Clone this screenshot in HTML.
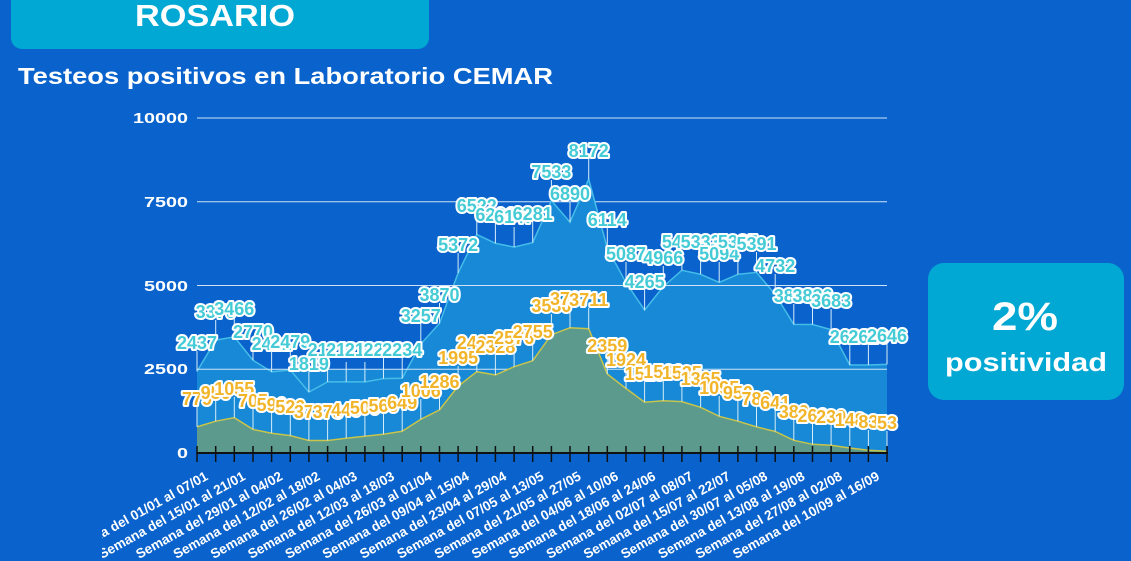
<!DOCTYPE html>
<html><head><meta charset="utf-8"><style>
html,body{margin:0;padding:0;background:#0a63cd;}
body{width:1131px;height:561px;overflow:hidden;position:relative;font-family:"Liberation Sans",sans-serif;}
</style></head><body>
<svg width="1131" height="561" viewBox="0 0 1131 561" xmlns="http://www.w3.org/2000/svg" style="position:absolute;left:0;top:0">
<defs><clipPath id="c"><rect x="102" y="440" width="900" height="130"/></clipPath></defs>
<rect x="0" y="0" width="1131" height="561" fill="#0a63cd"/>
<rect x="11" y="-20" width="418" height="69" rx="11" fill="#00a8d3"/>
<text x="135" y="26" textLength="160" lengthAdjust="spacingAndGlyphs" font-family="Liberation Sans, sans-serif" font-weight="bold" font-size="31" fill="#fff">ROSARIO</text>
<text x="18" y="84" textLength="535" lengthAdjust="spacingAndGlyphs" font-family="Liberation Sans, sans-serif" font-weight="bold" font-size="23" fill="#fff">Testeos positivos en Laboratorio CEMAR</text>
<rect x="928" y="263" width="196" height="137" rx="16" fill="#00a8d3"/>
<text x="992" y="330" textLength="66" lengthAdjust="spacingAndGlyphs" font-family="Liberation Sans, sans-serif" font-weight="bold" font-size="40" fill="#fff">2%</text>
<text x="945" y="371" textLength="162" lengthAdjust="spacingAndGlyphs" font-family="Liberation Sans, sans-serif" font-weight="bold" font-size="26" fill="#fff">positividad</text>

<g font-family="Liberation Sans, sans-serif" font-weight="bold" font-size="15" fill="#fff">
<text x="133" y="123" textLength="55" lengthAdjust="spacingAndGlyphs">10000</text><text x="144" y="207" textLength="44" lengthAdjust="spacingAndGlyphs">7500</text><text x="144" y="291" textLength="44" lengthAdjust="spacingAndGlyphs">5000</text><text x="144" y="374" textLength="44" lengthAdjust="spacingAndGlyphs">2500</text><text x="177" y="458" textLength="11" lengthAdjust="spacingAndGlyphs">0</text>
</g>
<g stroke="#cfe3f5" stroke-width="1">
<line x1="197" y1="118" x2="887" y2="118"/><line x1="197" y1="201.75" x2="887" y2="201.75"/>
</g>

<rect x="197" y="369.25" width="690" height="83.75" fill="#1789d6"/>
<polygon fill="#1789d6" points="197,371.4 215.7,340.1 234.3,336.9 253,360.2 271.6,371.9 290.3,370 308.9,392.1 327.6,381.9 346.2,381.9 364.9,381.9 383.5,378.6 402.2,378.2 420.8,343.9 439.5,323.4 458.1,273 476.8,234.5 495.4,243.3 514.1,247.1 532.7,242.6 551.4,200.6 570,222.2 588.7,179.2 607.3,248.2 626,282.6 644.6,310.1 663.3,286.6 681.9,270.3 700.6,274.3 719.2,282.4 737.9,274.3 756.5,272.4 775.2,294.5 793.8,324.4 812.5,324.5 831.1,329.6 849.8,365 868.4,365 887,364.4 887,453 197,453"/>
<polyline fill="none" stroke="#45bde9" stroke-width="1.5" points="197,371.4 215.7,340.1 234.3,336.9 253,360.2 271.6,371.9 290.3,370 308.9,392.1 327.6,381.9 346.2,381.9 364.9,381.9 383.5,378.6 402.2,378.2 420.8,343.9 439.5,323.4 458.1,273 476.8,234.5 495.4,243.3 514.1,247.1 532.7,242.6 551.4,200.6 570,222.2 588.7,179.2 607.3,248.2 626,282.6 644.6,310.1 663.3,286.6 681.9,270.3 700.6,274.3 719.2,282.4 737.9,274.3 756.5,272.4 775.2,294.5 793.8,324.4 812.5,324.5 831.1,329.6 849.8,365 868.4,365 887,364.4"/>
<g stroke="#cfe3f5" stroke-width="1">
<line x1="197" y1="285.5" x2="887" y2="285.5"/><line x1="197" y1="369.25" x2="887" y2="369.25"/>
</g>
<polygon fill="#5b9a8d" points="197,426.9 215.7,421.2 234.3,417.7 253,429.4 271.6,433.2 290.3,435.6 308.9,440.5 327.6,440.5 346.2,438.3 364.9,436.3 383.5,434.2 402.2,431.3 420.8,419.3 439.5,409.9 458.1,386.2 476.8,371.7 495.4,375 514.1,366.7 532.7,360.7 551.4,334.7 570,327.8 588.7,328.7 607.3,374 626,388.5 644.6,402.2 663.3,400.7 681.9,401.6 700.6,407.3 719.2,416.3 737.9,421.2 756.5,426.9 775.2,431.5 793.8,440.3 812.5,444.3 831.1,445.3 849.8,448 868.4,450.2 887,451.2 887,453 197,453"/>
<polyline fill="none" stroke="#c9c44a" stroke-width="1.5" points="197,426.9 215.7,421.2 234.3,417.7 253,429.4 271.6,433.2 290.3,435.6 308.9,440.5 327.6,440.5 346.2,438.3 364.9,436.3 383.5,434.2 402.2,431.3 420.8,419.3 439.5,409.9 458.1,386.2 476.8,371.7 495.4,375 514.1,366.7 532.7,360.7 551.4,334.7 570,327.8 588.7,328.7 607.3,374 626,388.5 644.6,402.2 663.3,400.7 681.9,401.6 700.6,407.3 719.2,416.3 737.9,421.2 756.5,426.9 775.2,431.5 793.8,440.3 812.5,444.3 831.1,445.3 849.8,448 868.4,450.2 887,451.2"/>

<g stroke="#d6ecf8" stroke-width="1">
<path d="M197 351V371.4M215.7 320V340.1M234.3 317V336.9M253 340V360.2M271.6 352V371.9M290.3 350V370M308.9 372V392.1M327.6 362V381.9M346.2 362V381.9M364.9 362V381.9M383.5 358V378.6M402.2 358V378.2M420.8 324V343.9M439.5 303V323.4M458.1 253V273M476.8 214V234.5M495.4 223V243.3M514.1 227V247.1M532.7 222V242.6M551.4 180V200.6M570 202V222.2M588.7 159V179.2M607.3 228V248.2M626 262V282.6M644.6 290V310.1M663.3 266V286.6M681.9 250V270.3M700.6 254V274.3M719.2 262V282.4M737.9 254V274.3M756.5 252V272.4M775.2 274V294.5M793.8 304V324.4M812.5 304V324.5M831.1 309V329.6M849.8 345V365M868.4 345V365M887 344V364.4"/>
<path d="M197 407V426.9M215.7 401V421.2M234.3 397V417.7M253 409V429.4M271.6 413V433.2M290.3 415V435.6M308.9 420V440.5M327.6 420V440.5M346.2 418V438.3M364.9 416V436.3M383.5 414V434.2M402.2 411V431.3M420.8 399V419.3M439.5 390V409.9M458.1 366V386.2M476.8 351V371.7M495.4 355V375M514.1 346V366.7M532.7 340V360.7M551.4 314V334.7M570 307V327.8M588.7 308V328.7M607.3 354V374M626 368V388.5M644.6 382V402.2M663.3 380V400.7M681.9 381V401.6M700.6 387V407.3M719.2 396V416.3M737.9 401V421.2M756.5 407V426.9M775.2 411V431.5M793.8 420V440.3M812.5 424V444.3M831.1 425V445.3M849.8 428V448M868.4 430V450.2M887 431V451.2"/>
</g>

<g font-family="Liberation Sans, sans-serif" font-weight="bold" font-size="18" text-anchor="middle" stroke="#fff" stroke-width="4" paint-order="stroke" stroke-linejoin="round" fill="#45cbd6">
<text x="197" y="349">2437</text><text x="215.7" y="318">3370</text><text x="234.3" y="315">3466</text><text x="253" y="338">2770</text><text x="271.6" y="350">2421</text><text x="290.3" y="348">2479</text><text x="308.9" y="370">1819</text><text x="327.6" y="356">2121</text><text x="346.2" y="356">2121</text><text x="364.9" y="356">2122</text><text x="383.5" y="356">2222</text><text x="402.2" y="356">2234</text><text x="420.8" y="322">3257</text><text x="439.5" y="301">3870</text><text x="458.1" y="251">5372</text><text x="476.8" y="212">6522</text><text x="495.4" y="221">6261</text><text x="514.1" y="223">6147</text><text x="532.7" y="220">6281</text><text x="551.4" y="178">7533</text><text x="570" y="200">6890</text><text x="588.7" y="157">8172</text><text x="607.3" y="226">6114</text><text x="626" y="260">5087</text><text x="644.6" y="288">4265</text><text x="663.3" y="264">4966</text><text x="681.9" y="248">5453</text><text x="700.6" y="248">5333</text><text x="719.2" y="260">5094</text><text x="737.9" y="248">5335</text><text x="756.5" y="250">5391</text><text x="775.2" y="272">4732</text><text x="793.8" y="302">3838</text><text x="812.5" y="302">3836</text><text x="831.1" y="307">3683</text><text x="849.8" y="343">2626</text><text x="868.4" y="343">2626</text><text x="887" y="342">2646</text>
</g>
<g font-family="Liberation Sans, sans-serif" font-weight="bold" font-size="18" text-anchor="middle" stroke="#fff" stroke-width="4" paint-order="stroke" stroke-linejoin="round" fill="#f2b52a">
<text x="197" y="405">779</text><text x="215.7" y="399">950</text><text x="234.3" y="395">1055</text><text x="253" y="407">705</text><text x="271.6" y="411">590</text><text x="290.3" y="413">520</text><text x="308.9" y="418">373</text><text x="327.6" y="418">373</text><text x="346.2" y="416">440</text><text x="364.9" y="414">500</text><text x="383.5" y="412">560</text><text x="402.2" y="409">649</text><text x="420.8" y="397">1006</text><text x="439.5" y="388">1286</text><text x="458.1" y="364">1995</text><text x="476.8" y="349">2427</text><text x="495.4" y="353">2328</text><text x="514.1" y="344">2576</text><text x="532.7" y="338">2755</text><text x="551.4" y="312">3530</text><text x="570" y="305">3737</text><text x="588.7" y="306">3711</text><text x="607.3" y="352">2359</text><text x="626" y="366">1924</text><text x="644.6" y="380">1515</text><text x="663.3" y="378">1560</text><text x="681.9" y="379">1535</text><text x="700.6" y="385">1365</text><text x="719.2" y="394">1095</text><text x="737.9" y="399">950</text><text x="756.5" y="405">780</text><text x="775.2" y="409">641</text><text x="793.8" y="418">380</text><text x="812.5" y="422">260</text><text x="831.1" y="423">230</text><text x="849.8" y="426">148</text><text x="868.4" y="428">83</text><text x="887" y="429">53</text>
</g>

<line x1="197" y1="453" x2="888" y2="453" stroke="#111" stroke-width="2"/>
<path stroke="#111" stroke-width="1.5" d="M197 446V462M215.7 446V462M234.3 446V462M253 446V462M271.6 446V462M290.3 446V462M308.9 446V462M327.6 446V462M346.2 446V462M364.9 446V462M383.5 446V462M402.2 446V462M420.8 446V462M439.5 446V462M458.1 446V462M476.8 446V462M495.4 446V462M514.1 446V462M532.7 446V462M551.4 446V462M570 446V462M588.7 446V462M607.3 446V462M626 446V462M644.6 446V462M663.3 446V462M681.9 446V462M700.6 446V462M719.2 446V462M737.9 446V462M756.5 446V462M775.2 446V462M793.8 446V462M812.5 446V462M831.1 446V462M849.8 446V462M868.4 446V462M887 446V462"/>

<g clip-path="url(#c)" font-family="Liberation Sans, sans-serif" font-weight="bold" font-size="13.5" fill="#fff" text-anchor="end">
<text transform="translate(209,479) rotate(-29)">Semana del 01/01 al 07/01</text>
<text transform="translate(246.3,479) rotate(-29)">Semana del 15/01 al 21/01</text>
<text transform="translate(283.6,479) rotate(-29)">Semana del 29/01 al 04/02</text>
<text transform="translate(320.9,479) rotate(-29)">Semana del 12/02 al 18/02</text>
<text transform="translate(358.2,479) rotate(-29)">Semana del 26/02 al 04/03</text>
<text transform="translate(395.5,479) rotate(-29)">Semana del 12/03 al 18/03</text>
<text transform="translate(432.8,479) rotate(-29)">Semana del 26/03 al 01/04</text>
<text transform="translate(470.1,479) rotate(-29)">Semana del 09/04 al 15/04</text>
<text transform="translate(507.4,479) rotate(-29)">Semana del 23/04 al 29/04</text>
<text transform="translate(544.7,479) rotate(-29)">Semana del 07/05 al 13/05</text>
<text transform="translate(582,479) rotate(-29)">Semana del 21/05 al 27/05</text>
<text transform="translate(619.3,479) rotate(-29)">Semana del 04/06 al 10/06</text>
<text transform="translate(656.6,479) rotate(-29)">Semana del 18/06 al 24/06</text>
<text transform="translate(693.9,479) rotate(-29)">Semana del 02/07 al 08/07</text>
<text transform="translate(731.2,479) rotate(-29)">Semana del 15/07 al 22/07</text>
<text transform="translate(768.5,479) rotate(-29)">Semana del 30/07 al 05/08</text>
<text transform="translate(805.8,479) rotate(-29)">Semana del 13/08 al 19/08</text>
<text transform="translate(843.1,479) rotate(-29)">Semana del 27/08 al 02/08</text>
<text transform="translate(880.4,479) rotate(-29)">Semana del 10/09 al 16/09</text>
</g>
</svg>
</body></html>
